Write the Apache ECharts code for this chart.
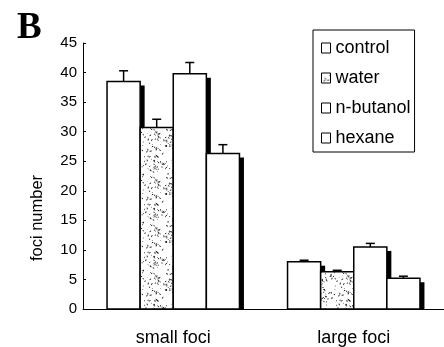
<!DOCTYPE html>
<html>
<head>
<meta charset="utf-8">
<script src="https://cdn.jsdelivr.net/npm/echarts@6/dist/echarts.min.js"></script>
<style>
html,body{margin:0;padding:0;background:#fff;}
#chart{width:444px;height:347px;}
</style>
</head>
<body>
<div id="chart"></div>
<script>
// ---- data ----
var categories = ['small foci', 'large foci'];
var seriesNames = ['control', 'water', 'n-butanol', 'hexane'];
var controlVals = [38.5, 8.0];
var waterVals = [30.7, 6.3];
var butanolVals = [39.8, 10.5];
var hexaneVals = [26.3, 5.2];
var controlErr = [1.8, 0.25];
var waterErr = [1.4, 0.25];
var butanolErr = [1.9, 0.6];
var hexaneErr = [1.5, 0.35];
var yTicks = [0, 5, 10, 15, 20, 25, 30, 35, 40, 45];

// ---- speckle texture (deterministic) ----
function makeSpeckle() {
  var c = document.createElement('canvas');
  c.width = 48; c.height = 48;
  var ctx = c.getContext('2d');
  ctx.fillStyle = '#fff';
  ctx.fillRect(0, 0, 48, 48);
  var seed = 12345;
  function rnd() { seed = (seed * 1103515245 + 12345) % 2147483648; return seed / 2147483648; }
  ctx.strokeStyle = '#222';
  ctx.lineWidth = 1;
  for (var i = 0; i < 170; i++) {
    var x = rnd() * 48, y = rnd() * 48;
    var dx = (rnd() - 0.5) * 4, dy = (rnd() - 0.5) * 4;
    ctx.beginPath();
    ctx.moveTo(x, y);
    ctx.lineTo(x + dx, y + dy);
    ctx.stroke();
  }
  return c;
}
var speckle = makeSpeckle();
var speckleFill = { image: speckle, repeat: 'repeat' };

var valueSets = [controlVals, waterVals, butanolVals, hexaneVals];
var errSets = [controlErr, waterErr, butanolErr, hexaneErr];
var fills = ['#fff', speckleFill, '#fff', '#fff'];

function makeRender(sIdx, fill) {
  return function (params, api) {
    var c = api.value(0), v = api.value(1), e = api.value(2);
    var base = api.coord([c, 0]);
    var top = api.coord([c, v]);
    var errTop = api.coord([c, v + e]);
    var band = api.size([1, 0])[0];
    var bw = band * 0.1834;
    var x0 = base[0] - 2 * bw + sIdx * bw;
    var cx = x0 + bw / 2;
    var h = base[1] - top[1];
    return {
      type: 'group',
      children: [
        { type: 'rect', shape: { x: x0 + bw, y: top[1] + 4, width: 4.5, height: Math.max(0, h - 4) }, style: { fill: '#000' } },
        { type: 'rect', shape: { x: x0, y: top[1], width: bw, height: h }, style: { fill: fill, stroke: '#000', lineWidth: 1.5 } },
        { type: 'line', shape: { x1: cx, y1: top[1], x2: cx, y2: errTop[1] }, style: { stroke: '#000', lineWidth: 1.5 } },
        { type: 'line', shape: { x1: cx - 4.5, y1: errTop[1], x2: cx + 4.5, y2: errTop[1] }, style: { stroke: '#000', lineWidth: 1.5 } }
      ]
    };
  };
}

var series = seriesNames.map(function (name, s) {
  return {
    name: name,
    type: 'custom',
    renderItem: makeRender(s, fills[s]),
    itemStyle: { color: s === 1 ? speckleFill : '#fff', borderColor: '#000', borderWidth: 1 },
    encode: { x: 0, y: 1 },
    data: categories.map(function (cat, i) { return [i, valueSets[s][i], errSets[s][i]]; }),
    animation: false
  };
});

var chart = echarts.init(document.getElementById('chart'), null, { renderer: 'canvas' });
chart.setOption({
  backgroundColor: '#fff',
  animation: false,
  title: {
    text: 'B', left: 12, top: 5,
    textStyle: { fontFamily: 'Liberation Serif', fontWeight: 'bold', fontSize: 37, color: '#000' }
  },
  legend: {
    orient: 'vertical',
    left: 313, top: 30,
    padding: [8, 4, 4, 8],
    itemGap: 10,
    itemWidth: 9, itemHeight: 10,
    backgroundColor: '#fff',
    borderColor: '#000', borderWidth: 1,
    icon: 'rect',
    textStyle: { fontFamily: 'Liberation Sans', fontSize: 18, color: '#000', lineHeight: 20 },
    data: seriesNames.map(function (n, s) {
      return { name: n, icon: 'rect', itemStyle: { color: s === 1 ? speckleFill : '#fff', borderColor: '#000', borderWidth: 1 } };
    })
  },
  grid: { left: 83, top: 43, width: 368, height: 266 },
  xAxis: {
    type: 'category',
    data: categories,
    axisLine: { lineStyle: { color: '#000', width: 1 } },
    axisTick: { inside: true, length: 3, lineStyle: { color: '#000' } },
    axisLabel: { margin: 20, fontFamily: 'Liberation Sans', fontSize: 18, color: '#000' }
  },
  yAxis: {
    type: 'value',
    min: yTicks[0], max: yTicks[yTicks.length - 1], interval: 5,
    splitLine: { show: false },
    axisLine: { show: true, lineStyle: { color: '#000', width: 1 } },
    axisTick: { show: true, inside: true, length: 3, lineStyle: { color: '#000' } },
    axisLabel: { margin: 6, fontFamily: 'Liberation Sans', fontSize: 15, color: '#000' }
  },
  graphic: [{
    type: 'text',
    x: 37, y: 218,
    rotation: Math.PI / 2,
    style: { text: 'foci number', fontFamily: 'Liberation Sans', fontSize: 16.5, fill: '#000', align: 'center', verticalAlign: 'middle' }
  }],
  series: series
});
</script>
</body>
</html>
